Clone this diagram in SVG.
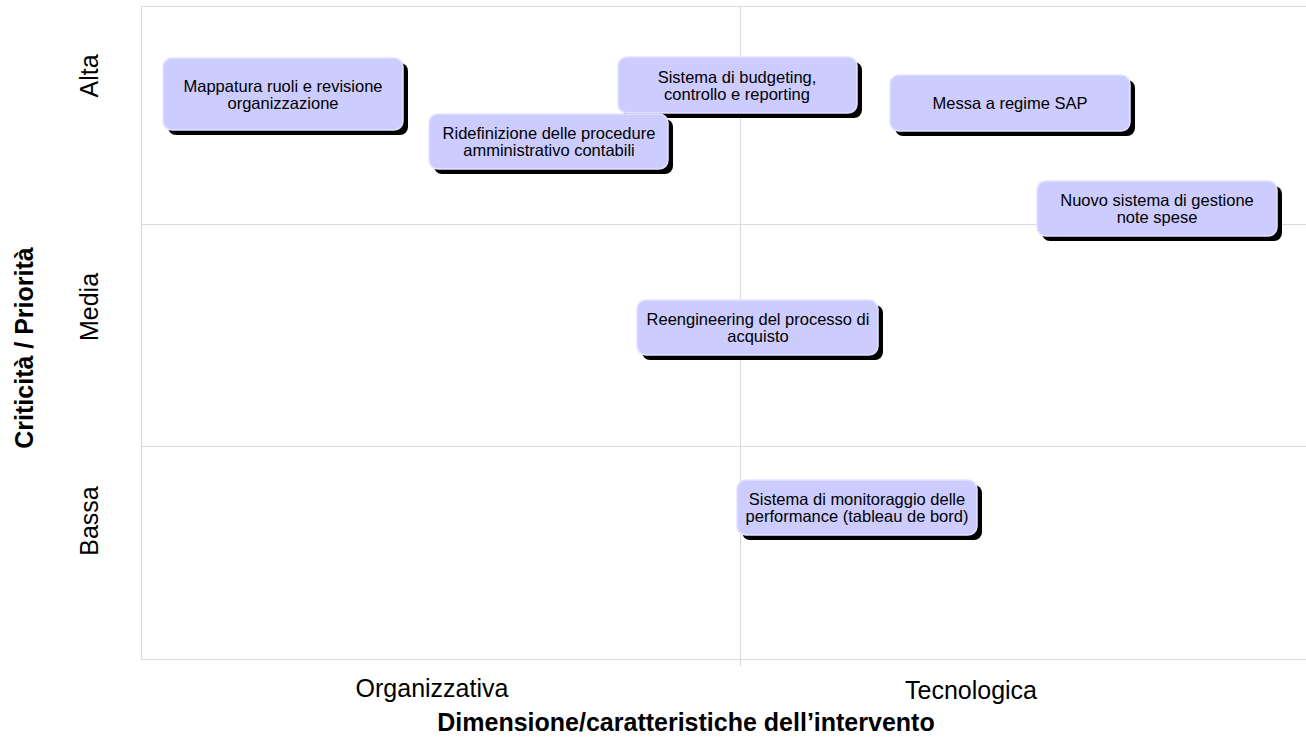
<svg xmlns="http://www.w3.org/2000/svg" width="1306" height="737" viewBox="0 0 1306 737">
  <style>
    .grid { stroke: #dcdcdc; stroke-width: 1.2; fill: none; }
    .shadow { fill: #000; }
    .box { fill: #ccccff; stroke: #e2e2ff; stroke-width: 1.5; }
    .lbl { font-family: "Liberation Sans", Arial, sans-serif; font-size: 16.5px; fill: #000; text-anchor: middle; }
    .axis { font-family: "Liberation Sans", Arial, sans-serif; font-size: 25px; fill: #000; text-anchor: middle; }
    .title { font-family: "Liberation Sans", Arial, sans-serif; font-size: 25px; font-weight: bold; fill: #000; text-anchor: middle; }
  </style>

  <rect width="1306" height="737" fill="#ffffff"/>

  <!-- plot grid -->
  <g id="grid">
    <path class="grid" d="M1306 6.5 H141.5 V659.5 H1306"/>
    <line class="grid" x1="141.5" y1="224.5" x2="1306" y2="224.5"/>
    <line class="grid" x1="141.5" y1="446.5" x2="1306" y2="446.5"/>
    <line class="grid" x1="740.5" y1="6.5" x2="740.5" y2="666"/>
  </g>

  <!-- axis labels -->
  <g id="y-axis">
    <text class="axis" transform="translate(98 76) rotate(-90)">Alta</text>
    <text class="axis" transform="translate(98 307) rotate(-90)">Media</text>
    <text class="axis" transform="translate(98 521) rotate(-90)">Bassa</text>
    <text class="title" transform="translate(33 348) rotate(-90)">Criticità / Priorità</text>
  </g>
  <g id="x-axis">
    <text class="axis" x="432" y="697">Organizzativa</text>
    <text class="axis" x="971" y="699">Tecnologica</text>
    <text class="title" x="686" y="731">Dimensione/caratteristiche dell’intervento</text>
  </g>

  <!-- no connectors in this chart -->
  <g id="connectors"/>

  <g id="node-mappatura">
    <rect class="shadow" x="168" y="63" width="240" height="72" rx="8"/>
    <rect class="box" x="163" y="58" width="240" height="72" rx="9"/>
    <text class="lbl" x="283" y="92">Mappatura ruoli e revisione</text>
    <text class="lbl" x="283" y="109">organizzazione</text>
  </g>

  <g id="node-budgeting">
    <rect class="shadow" x="623" y="62" width="239" height="56" rx="8"/>
    <rect class="box" x="618" y="57" width="239" height="56" rx="9"/>
    <text class="lbl" x="737" y="83">Sistema di budgeting,</text>
    <text class="lbl" x="737" y="100">controllo e reporting</text>
  </g>

  <g id="node-ridefinizione">
    <rect class="shadow" x="434" y="119" width="239" height="55" rx="8"/>
    <rect class="box" x="429" y="114" width="239" height="55" rx="9"/>
    <text class="lbl" x="549" y="139">Ridefinizione delle procedure</text>
    <text class="lbl" x="549" y="156">amministrativo contabili</text>
  </g>

  <g id="node-sap">
    <rect class="shadow" x="895" y="80" width="240" height="56" rx="8"/>
    <rect class="box" x="890" y="75" width="240" height="56" rx="9"/>
    <text class="lbl" x="1010" y="109">Messa a regime SAP</text>
  </g>

  <g id="node-note-spese">
    <rect class="shadow" x="1042" y="186" width="240" height="55" rx="8"/>
    <rect class="box" x="1037" y="181" width="240" height="55" rx="9"/>
    <text class="lbl" x="1157" y="206">Nuovo sistema di gestione</text>
    <text class="lbl" x="1157" y="223">note spese</text>
  </g>

  <g id="node-acquisto">
    <rect class="shadow" x="642" y="305" width="241" height="55" rx="8"/>
    <rect class="box" x="637" y="300" width="241" height="55" rx="9"/>
    <text class="lbl" x="758" y="325">Reengineering del processo di</text>
    <text class="lbl" x="758" y="342">acquisto</text>
  </g>

  <g id="node-monitoraggio">
    <rect class="shadow" x="742" y="485" width="240" height="55" rx="8"/>
    <rect class="box" x="737" y="480" width="240" height="55" rx="9"/>
    <text class="lbl" x="857" y="505">Sistema di monitoraggio delle</text>
    <text class="lbl" x="857" y="522">performance (tableau de bord)</text>
  </g>
</svg>
